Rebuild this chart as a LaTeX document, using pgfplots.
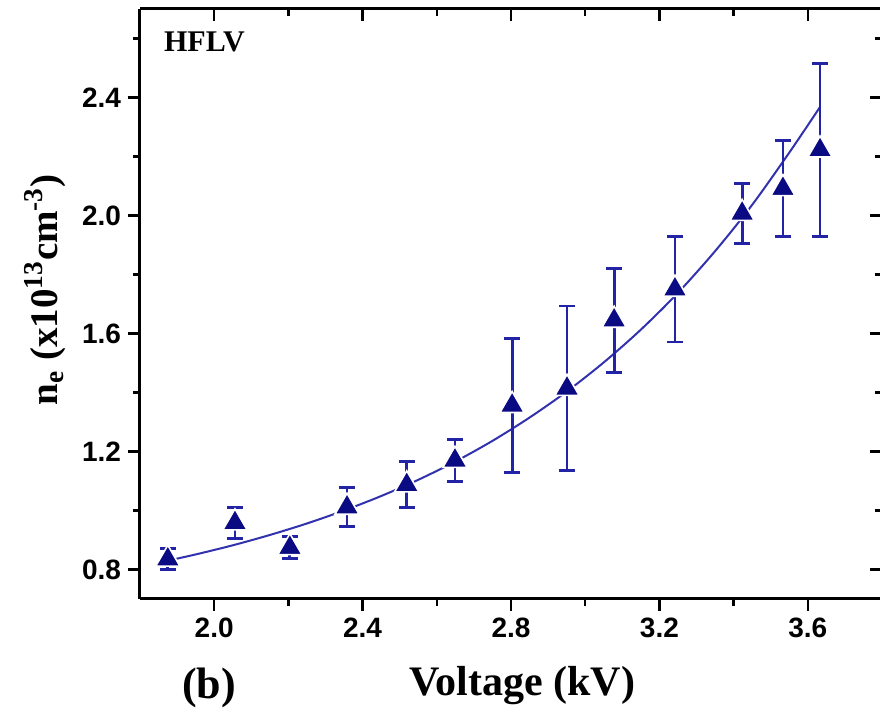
\documentclass[border=0pt]{standalone}
\usepackage{pgfplots}
\pgfplotsset{compat=1.18}
\usepackage{fontspec}
\setmainfont{Liberation Serif}
\setsansfont{Liberation Sans}
\definecolor{mk}{RGB}{10,10,130}
\definecolor{eb}{RGB}{35,35,165}
\definecolor{fitc}{RGB}{50,50,175}

\pgfplotstableread{
x y e
1.875 0.835 0.035
2.056 0.958 0.053
2.204 0.874 0.037
2.358 1.011 0.066
2.519 1.087 0.078
2.649 1.170 0.072
2.803 1.356 0.228
2.951 1.414 0.279
3.078 1.645 0.176
3.242 1.750 0.179
3.423 2.007 0.101
3.533 2.091 0.162
3.633 2.222 0.292
}\datatab

\begin{document}
\begin{tikzpicture}
\pgfplotsset{
 base/.style={scale only axis, width=371pt, height=295pt, at={(70pt,56.5pt)}, anchor=south west,
  xmin=1.8, xmax=3.8, ymin=0.7, ymax=2.7,
  xtick={2.0,2.4,2.8,3.2,3.6}, ytick={0.8,1.2,1.6,2.0,2.4},
  minor xtick={2.2,2.6,3.0,3.4}, minor ytick={1.0,1.4,1.8,2.2,2.6},
  major tick length=6pt, minor tick length=3.5pt,
  tick style={black, line width=1.2pt},
  axis line style={line width=1.5pt},
 }
}
\begin{axis}[base, axis x line*=bottom, axis y line*=left, tick align=outside,
  clip mode=individual,
  ticklabel style={font=\fontsize{14}{14}\selectfont\sffamily\bfseries},
  /pgf/number format/assume math mode=true,
  xticklabel style={/pgf/number format/.cd, fixed, fixed zerofill, precision=1},
  yticklabel style={/pgf/number format/.cd, fixed, fixed zerofill, precision=1},
  xlabel={Voltage (kV)},
  xlabel style={font=\fontsize{21}{21}\selectfont\bfseries, at={(axis description cs:0.515,-0.147)}, anchor=center},
  ylabel={n\textsubscript{e} (x10\textsuperscript{13}cm\textsuperscript{-3})},
  ylabel style={font=\fontsize{19.5}{19.5}\selectfont\bfseries, at={(axis description cs:-0.128,0.524)}, anchor=center},
]
\addplot[fitc, line width=1pt, smooth] coordinates {
(1.875,0.830) (1.95,0.851) (2.05,0.882) (2.15,0.917) (2.25,0.956) (2.35,1.000)
(2.45,1.049) (2.55,1.104) (2.65,1.166) (2.75,1.236) (2.85,1.315) (2.95,1.403)
(3.05,1.502) (3.15,1.613) (3.25,1.738) (3.35,1.879) (3.45,2.036) (3.55,2.213) (3.633,2.368)
};
\addplot[only marks, mark=triangle*, mark size=7pt,
  mark options={fill=mk, draw=white, line width=0.8pt},
  error bars/.cd, y dir=both, y explicit,
  error bar style={eb, line width=1.4pt},
  error mark options={rotate=90, mark size=4pt, line width=1.4pt, eb}]
  table[x=x, y=y, y error=e] {\datatab};
\node[anchor=west, font=\fontsize{15}{15}\selectfont\bfseries] at (axis description cs:0.023,0.944) {HFLV};
\node[anchor=center, font=\fontsize{22}{22}\selectfont\bfseries] at (axis description cs:0.093,-0.15) {(b)};
\end{axis}
\begin{axis}[base, axis x line*=top, axis y line*=right, tick align=inside,
  xticklabels={}, yticklabels={}]
\end{axis}
\pgfresetboundingbox
\path (0,0) rectangle (440pt,356pt);
\end{tikzpicture}
\end{document}
